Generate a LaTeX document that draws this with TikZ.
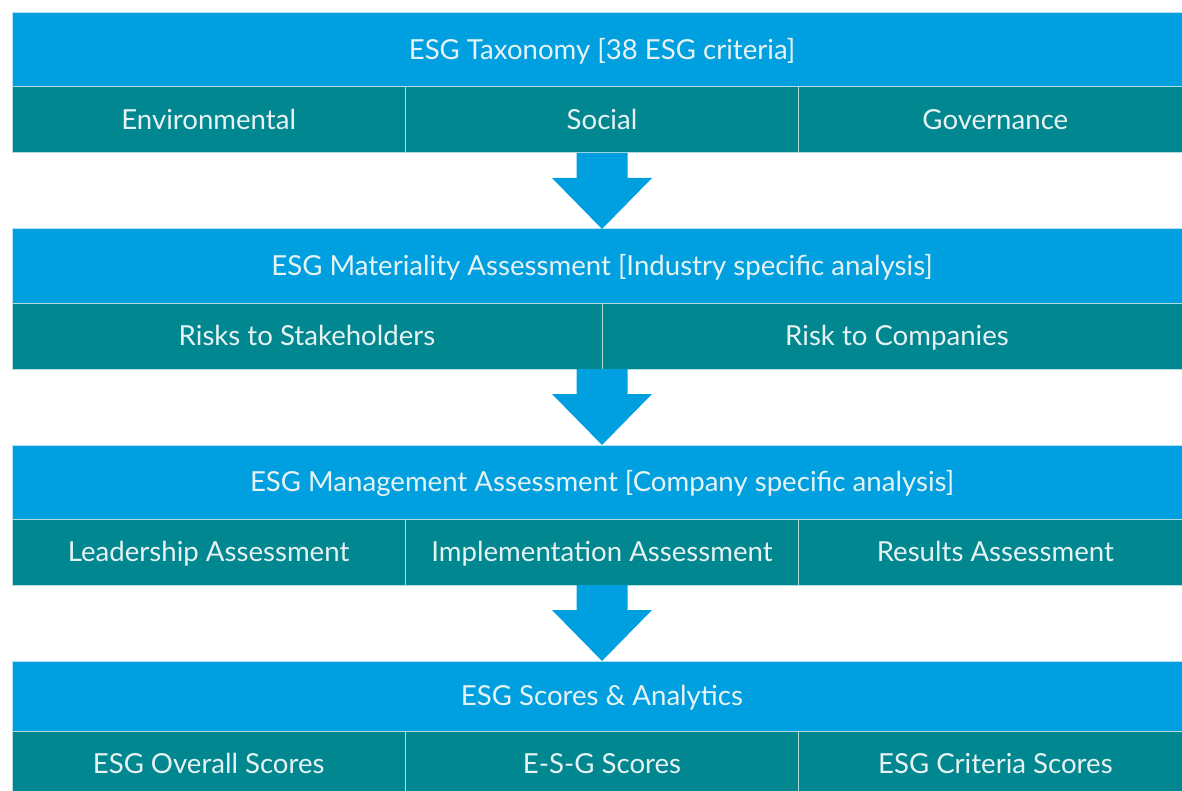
\documentclass[tikz,border=0pt]{standalone}
\usepackage{fontspec}
\setmainfont{Lato}
\usepackage{tikz}
\usepackage{xcolor}
\usetikzlibrary{positioning}
\definecolor{esgblue}{HTML}{00A0E0}
\definecolor{esgteal}{HTML}{00878F}
\definecolor{esgtext}{HTML}{E6F2F3}
\tikzstyle{headbox} = [rectangle, minimum width=590pt, minimum height=37pt, inner sep=0pt, outer sep=0pt,
fill=esgblue, draw=white!70!esgblue, line width=0.5pt, text=esgtext, text height=2.1ex, text depth=0.3ex,
font=\fontsize{13.8}{16}\selectfont]
\tikzstyle{thirdbox} = [rectangle, minimum width=196.67pt, minimum height=33pt, inner sep=0pt, outer sep=0pt,
fill=esgteal, draw=white!70!esgteal, line width=0.5pt, text=esgtext, text height=2.1ex, text depth=0.3ex,
font=\fontsize{13.8}{16}\selectfont]
\tikzstyle{halfbox} = [thirdbox, minimum width=295pt]
\newcommand{\blockarrow}[2]{%
  \fill[esgblue] ([xshift=-12.75pt,yshift=-33pt]#1.south) -- ([xshift=-12.75pt,yshift=-45.5pt]#1.south)
  -- ([xshift=-25pt,yshift=-45.5pt]#1.south) -- (#2.north) -- ([xshift=25pt,yshift=-45.5pt]#1.south)
  -- ([xshift=12.75pt,yshift=-45.5pt]#1.south) -- ([xshift=12.75pt,yshift=-33pt]#1.south) -- cycle;}

\begin{document}
\begin{tikzpicture}[x=0.5pt,y=-0.5pt]
            \useasboundingbox (0,0) rectangle (1182,791);
            \clip (0,0) rectangle (1182,791);

            % Taxonomy
            \node(tax) [headbox] at (602,50) {ESG Taxonomy [38 ESG criteria]};
            \node(env) [thirdbox, below right=0pt of tax.south west] {Environmental};
            \node(soc) [thirdbox, right=0pt of env] {Social};
            \node(gov) [thirdbox, right=0pt of soc] {Governance};

            % Materiality
            \node(mat) [headbox, below=71pt of tax] {ESG Materiality Assessment [Industry specific analysis]};
            \node(stake) [halfbox, below right=0pt of mat.south west] {Risks to Stakeholders};
            \node(comp) [halfbox, right=0pt of stake] {Risk to Companies};

            % Management
            \node(mgmt) [headbox, below=71pt of mat] {ESG Management Assessment [Company specific analysis]};
            \node(lead) [thirdbox, below right=0pt of mgmt.south west] {Leadership Assessment};
            \node(impl) [thirdbox, right=0pt of lead] {Implementation Assessment};
            \node(res) [thirdbox, right=0pt of impl] {Results Assessment};

            % Scores
            \node(score) [headbox, minimum height=35pt, below=71pt of mgmt] {ESG Scores \& Analytics};
            \node(overall) [thirdbox, below right=0pt of score.south west] {ESG Overall Scores};
            \node(esg) [thirdbox, right=0pt of overall] {E-S-G Scores};
            \node(crit) [thirdbox, right=0pt of esg] {ESG Criteria Scores};

            % Arrows
            \blockarrow{tax}{mat}
            \blockarrow{mat}{mgmt}
            \blockarrow{mgmt}{score}
        \end{tikzpicture}
\end{document}
